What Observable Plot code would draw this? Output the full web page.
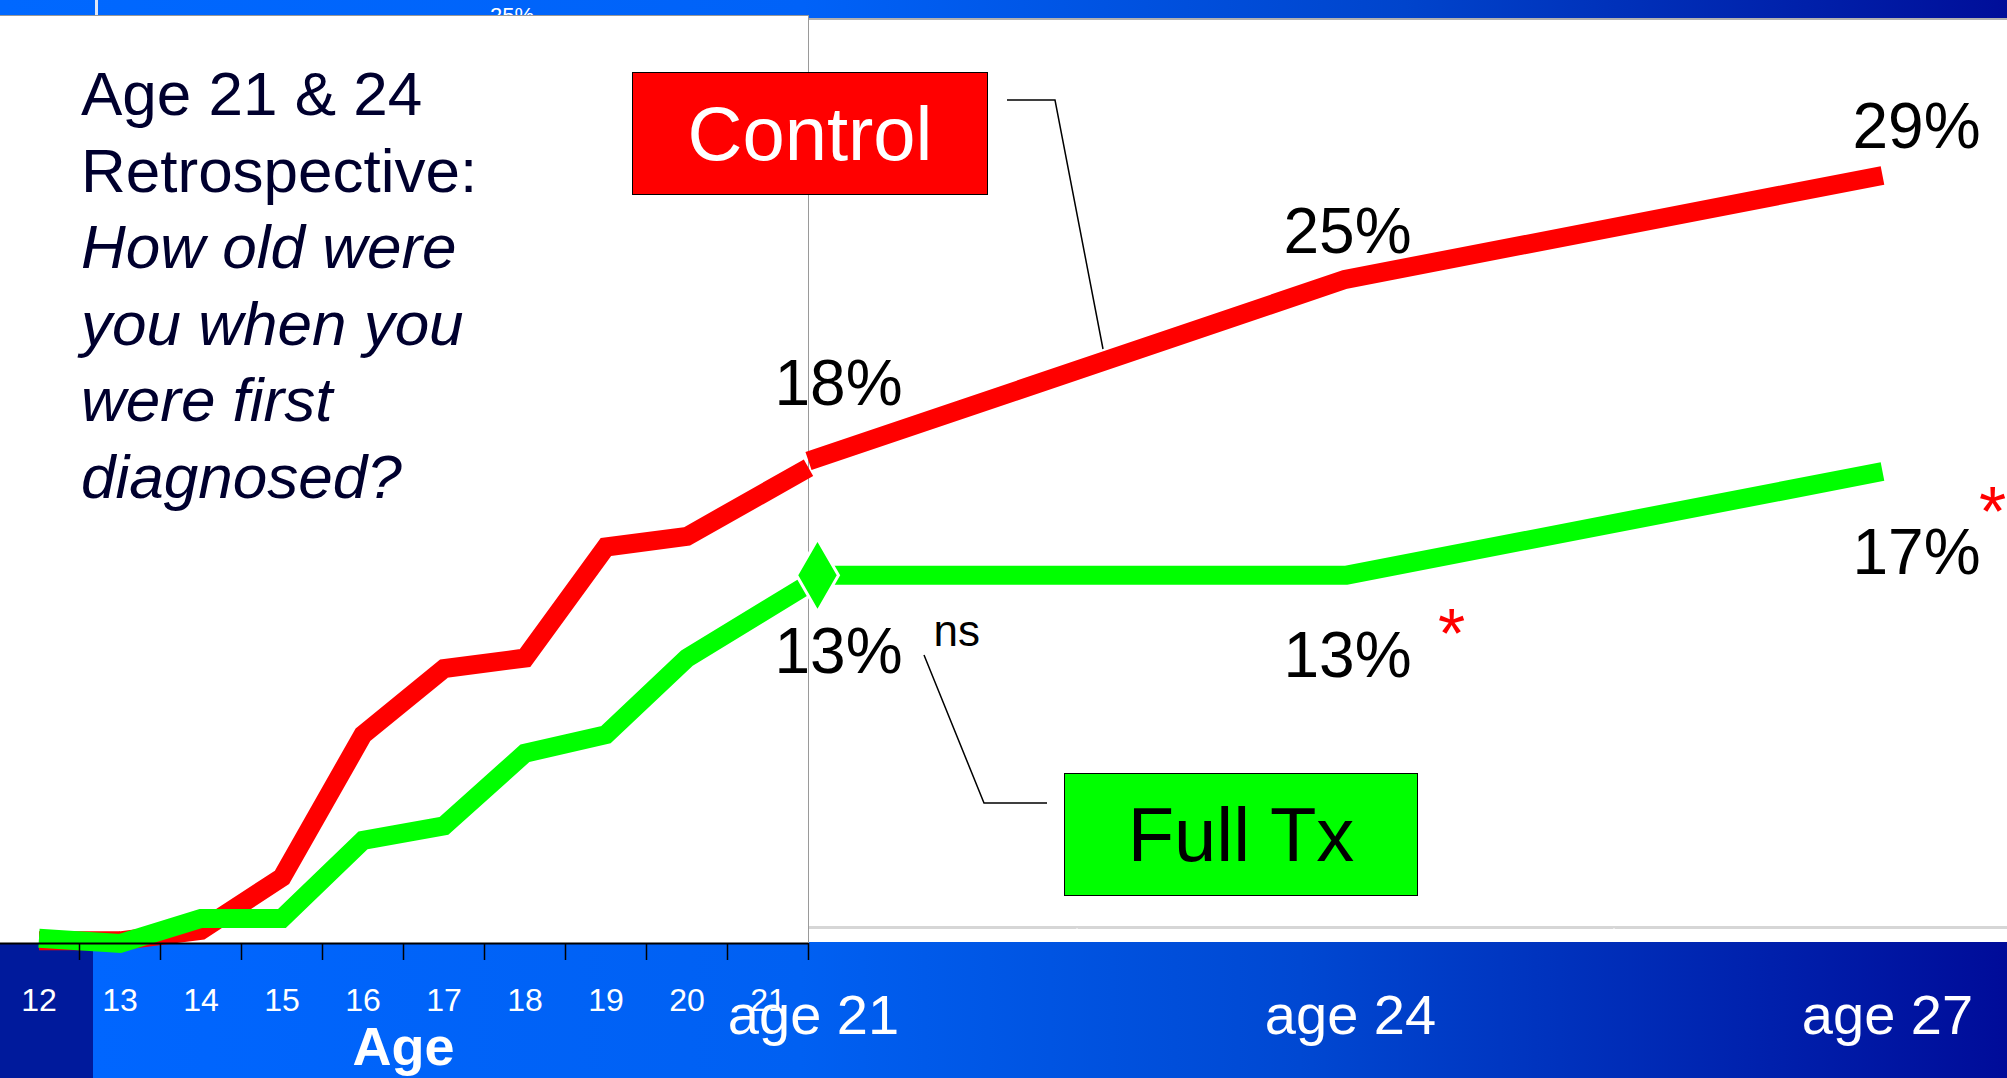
<!DOCTYPE html>
<html><head><meta charset="utf-8">
<script src="https://cdn.jsdelivr.net/npm/d3@7"></script>
<script src="https://cdn.jsdelivr.net/npm/@observablehq/plot@0.6"></script>
<style>
html,body{margin:0;padding:0;width:2007px;height:1078px;overflow:hidden;background:#fff;font-family:"Liberation Sans",Arial,sans-serif;}
#stage{position:relative;width:2007px;height:1078px;overflow:hidden;}
.abs{position:absolute;}
#topband{left:0;top:0;width:2007px;height:18px;background:linear-gradient(to right,#0068ff 0%,#0062f8 40%,#0044cc 70%,#000e99 100%);}
#topline{left:0;top:18px;width:2007px;height:2px;background:#b0b0b0;}
#topwhite{left:95px;top:0;width:3px;height:16px;background:#dfe6f5;}
#glitch{left:490px;top:3px;font-size:22px;color:#fff;}
#botband{left:0;top:942px;width:2007px;height:136px;background:linear-gradient(to right,#001a9c 0px,#001a9c 93px,#0066ff 93px,#0060f2 800px,#0048d2 1300px,#000c99 2007px);}
#rbase{left:808px;top:926px;width:1199px;height:3px;background:#d6d6d6;}
#panel{left:0;top:15px;width:808px;height:928px;background:#fff;border-top:1px solid #999;}
#pborder{left:808px;top:15px;width:1px;height:945px;background:#9a9a9a;}
#title{left:81px;top:56px;font-size:62px;line-height:76.5px;color:#00002e;white-space:nowrap;}
#title i{font-style:italic;}
.box{position:absolute;border:1.5px solid #000;box-sizing:border-box;display:flex;align-items:center;justify-content:center;font-size:76px;}
#ctrlbox{left:632px;top:72px;width:356px;height:123px;background:#ff0000;color:#fff;}
#ftxbox{left:1064px;top:773px;width:354px;height:123px;background:#00ff00;color:#000;}
#leaders{left:0;top:0;}
</style>
</head>
<body>
<div id="stage">
  <div class="abs" id="topband"></div>
  <div class="abs" id="topwhite"></div>
  <div class="abs" id="glitch">25%</div>
  <div class="abs" id="topline"></div>
  <div class="abs" id="botband"></div>
  <div class="abs" id="rbase"></div>
  <div class="abs" id="panel"></div>
  <div class="abs" id="pborder"></div>
  <div class="abs" id="leftplot" style="left:-2px;top:0;"></div>
  <div class="abs" id="title">Age 21 &amp; 24<br>Retrospective:<br><i>How old were<br>you when you<br>were first<br>diagnosed?</i></div>
  <div class="abs" id="rightplot" style="left:0;top:0;"></div>
  <div class="box" id="ctrlbox">Control</div>
  <div class="box" id="ftxbox">Full Tx</div>
  <svg class="abs" id="leaders" width="2007" height="1078">
    <polyline points="1007,100 1055,100 1103,349" fill="none" stroke="#000" stroke-width="1.5"/>
    <polyline points="1047,803 984,803 924,655" fill="none" stroke="#000" stroke-width="1.5"/>
  </svg>
</div>
<script>
// ---- Left chart: retrospective age at first diagnosis (cumulative %) ----
const ageTicks = [12, 13, 14, 15, 16, 17, 18, 19, 20, 21];
const leftAges = [12, 13, 14, 15, 16, 17, 18, 19, 20, 21.5]; // last point sits at the right edge of the age-21 band
const leftControl = [0.1, 0.1, 0.5, 2.5, 7.9, 10.4, 10.8, 15.0, 15.4, 18.0];
const leftFullTx = [0.2, 0.0, 0.95, 0.95, 3.9, 4.45, 7.2, 7.9, 10.8, 13.6];
const bandEdges = [12.5, 13.5, 14.5, 15.5, 16.5, 17.5, 18.5, 19.5, 20.5, 21.5];

// ---- Right chart: follow-up ages ----
const followAges = [21, 24, 27];
const followLabels = ["age 21", "age 24", "age 27"];
const followControl = [18, 25, 29];
const followFullTx = [13.6, 13.6, 17.6];
const controlText = ["18%", "25%", "29%"];
const fullTxText = ["13%", "13%", "17%"];
const sigText = ["ns", "*", "*"];
const followEdges = [22.5, 25.5];

const RED = "#ff0000", GREEN = "#00ff00";
const FONT = "Liberation Sans, Arial, sans-serif";
const LW = 19;

const left = Plot.plot({
  width: 810, height: 1078,
  marginLeft: 0, marginRight: 0, marginTop: 150, marginBottom: 135,
  style: {background: "transparent", overflow: "visible", fontFamily: FONT},
  x: {domain: [11.5, 21.5], label: null},
  y: {domain: [0, 30], axis: null},
  marks: [
    Plot.line(leftControl, {x: leftAges, y: leftControl, stroke: RED, strokeWidth: LW, strokeLinejoin: "miter", strokeMiterlimit: 6, strokeLinecap: "butt"}),
    Plot.line(leftFullTx, {x: leftAges, y: leftFullTx, stroke: GREEN, strokeWidth: LW, strokeLinejoin: "miter", strokeMiterlimit: 6, strokeLinecap: "butt"}),
    Plot.ruleY([0], {stroke: "#000", strokeWidth: 2}),
    Plot.axisX(bandEdges, {tickSize: 17, stroke: "#000", strokeWidth: 1.5, tickFormat: () => "", label: null}),
    Plot.axisX(ageTicks, {tickSize: 0, tickPadding: 45, fontSize: 32, color: "white", label: null}),
    Plot.text(["Age"], {frameAnchor: "bottom", dy: 121, fontSize: 54, fontWeight: "bold", fill: "white"})
  ]
});
document.getElementById("leftplot").appendChild(left);

const lbl = (vals, texts, i, o) => Plot.text([i], {x: j => followAges[j], y: j => vals[j], text: j => texts[j], fontSize: 64, fill: "#000", ...o});

const right = Plot.plot({
  width: 2007, height: 1078,
  marginLeft: 808, marginRight: 125, marginTop: 149, marginBottom: 150,
  style: {background: "transparent", overflow: "visible", fontFamily: FONT},
  x: {domain: [21, 27], label: null},
  y: {domain: [0, 30], axis: null},
  marks: [
    Plot.axisX(followAges, {tickSize: 0, tickPadding: 66, fontSize: 56, color: "white", label: null, dx: 5,
      tickFormat: d => followLabels[followAges.indexOf(d)]}),
    Plot.axisX(followEdges, {tickSize: 14, color: "white", tickFormat: () => "", label: null}),
    Plot.line(followControl, {x: followAges, y: followControl, stroke: RED, strokeWidth: LW, strokeLinejoin: "miter", strokeLinecap: "butt"}),
    Plot.line(followFullTx, {x: followAges, y: followFullTx, stroke: GREEN, strokeWidth: LW, strokeLinejoin: "miter", strokeLinecap: "butt"}),
    Plot.dot([0], {x: j => followAges[j], y: j => followFullTx[j], symbol: "diamond", r: 22, fill: GREEN, stroke: "white", strokeWidth: 3, dx: 9}),
    lbl(followControl, controlText, 0, {dx: 30, dy: -77}),
    lbl(followControl, controlText, 1, {dx: 2, dy: -47}),
    lbl(followControl, controlText, 2, {dx: 34, dy: -48}),
    lbl(followFullTx, fullTxText, 0, {dx: 30, dy: 77}),
    lbl(followFullTx, fullTxText, 1, {dx: 2, dy: 81}),
    lbl(followFullTx, fullTxText, 2, {dx: 34, dy: 82}),
    lbl(followFullTx, sigText, 0, {dx: 125, dy: 57, fontSize: 44, textAnchor: "start"}),
    lbl(followFullTx, sigText, 1, {dx: 106, dy: 60, fontSize: 70, fill: RED}),
    lbl(followFullTx, sigText, 2, {dx: 110, dy: 42, fontSize: 70, fill: RED})
  ]
});
document.getElementById("rightplot").appendChild(right);
</script>
</body></html>
